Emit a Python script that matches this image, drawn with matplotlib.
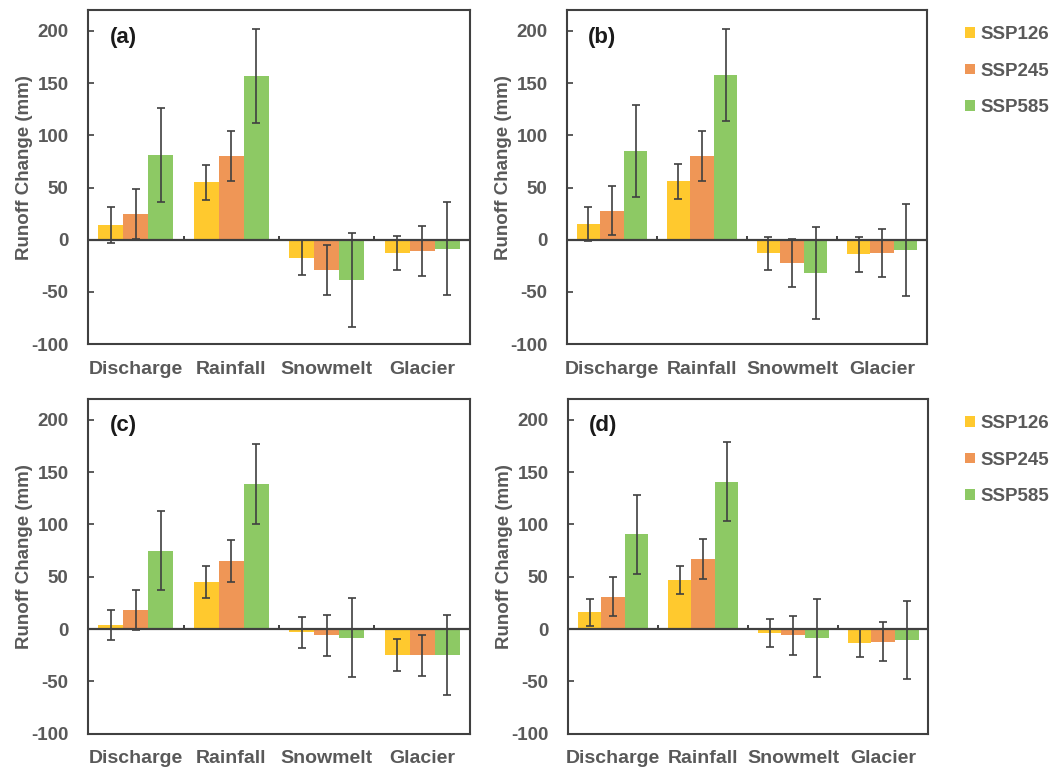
import numpy as np
import matplotlib.pyplot as plt
from matplotlib.patches import Patch

plt.rcParams['font.family'] = ['Liberation Sans', 'DejaVu Sans']
plt.rcParams['font.weight'] = 'bold'
plt.rcParams['axes.unicode_minus'] = False

# categories / scenarios
cats = ['Discharge', 'Rainfall', 'Snowmelt', 'Glacier']
scenarios = ['SSP126', 'SSP245', 'SSP585']
colors = ['#FFC92E', '#EF9656', '#8DC964']

# panel (a)
a_126 = [14, 55, -17, -12.5]
a_245 = [25, 80, -29, -11]
a_585 = [81, 157, -39, -8.5]
a_126_err = [17, 17, 17, 16.5]
a_245_err = [24, 24, 24, 24]
a_585_err = [45, 45, 45, 44.5]

# panel (b)
b_126 = [15, 56, -13, -14]
b_245 = [28, 80, -22.5, -12.5]
b_585 = [85, 157.5, -31.5, -10]
b_126_err = [16.5, 17, 16, 16.5]
b_245_err = [23.5, 24, 23, 23]
b_585_err = [44, 44, 44, 44]

# panel (c)
c_126 = [4, 45, -3, -24.7]
c_245 = [18, 65, -6, -25]
c_585 = [75, 138.5, -8, -24.5]
c_126_err = [14.7, 15, 15, 15]
c_245_err = [19, 20, 19.6, 19.5]
c_585_err = [38, 38, 38, 38]

# panel (d)
d_126 = [16, 46.5, -3.5, -13.4]
d_245 = [31, 67, -6, -12]
d_585 = [90.5, 141, -8.7, -10.3]
d_126_err = [13, 13.4, 13.5, 13.4]
d_245_err = [18.6, 18.7, 18.6, 18.5]
d_585_err = [38, 37.5, 37.5, 37.5]

panels = [
    ('(a)', [a_126, a_245, a_585], [a_126_err, a_245_err, a_585_err]),
    ('(b)', [b_126, b_245, b_585], [b_126_err, b_245_err, b_585_err]),
    ('(c)', [c_126, c_245, c_585], [c_126_err, c_245_err, c_585_err]),
    ('(d)', [d_126, d_245, d_585], [d_126_err, d_245_err, d_585_err]),
]

positions = [
    [0.0835, 0.553, 0.3624, 0.434],
    [0.538, 0.553, 0.3416, 0.434],
    [0.0835, 0.047, 0.3624, 0.435],
    [0.539, 0.047, 0.3416, 0.435],
]

grey = '#595959'
dark = '#404040'

fig = plt.figure(figsize=(10.54, 7.7), dpi=100)

x = np.arange(len(cats))
w = 0.262

for (label, means, errs), pos in zip(panels, positions):
    ax = fig.add_axes(pos)
    for i in range(3):
        ax.bar(x + (i - 1) * w, means[i], w, color=colors[i], yerr=errs[i],
               error_kw=dict(ecolor=dark, elinewidth=1.2, capsize=3, capthick=1.2, zorder=4),
               zorder=2)
    # zero line with small category separators
    ax.axhline(0, color=dark, lw=1.6, zorder=3)
    ax.vlines(x[:-1] + 0.5, 0, 4, color=dark, lw=1.4, zorder=3)
    ax.set_xlim(-0.5, 3.5)
    ax.set_ylim(-100, 220)
    ax.set_yticks([-100, -50, 0, 50, 100, 150, 200])
    ax.set_xticks(x)
    ax.set_xticklabels(cats)
    ax.tick_params(axis='x', length=0, pad=12, labelsize=14, labelcolor=grey)
    ax.tick_params(axis='y', direction='in', length=4, width=1.2, color=dark,
                   pad=14, labelsize=13.5, labelcolor=grey)
    for s in ax.spines.values():
        s.set_color(dark)
        s.set_linewidth(1.5)
    ax.set_ylabel('Runoff Change (mm)', fontsize=13.5, fontweight='bold', color=grey)
    ax.yaxis.set_label_coords(-0.143 * 0.3624 / pos[2], 0.53)
    ax.text(0.058, 0.919, label, transform=ax.transAxes, fontsize=16,
            fontweight='bold', color='#1a1a1a', va='center')

handles = [Patch(facecolor=c, edgecolor='none') for c in colors]
for ytop in [0.988, 0.483]:
    fig.legend(handles, scenarios, loc='upper left', bbox_to_anchor=(0.9, ytop),
               frameon=False, fontsize=13.5, handlelength=0.5, handleheight=0.5,
               handletextpad=0.3, labelspacing=1.05, labelcolor=grey)

plt.savefig('out.png', dpi=100)
